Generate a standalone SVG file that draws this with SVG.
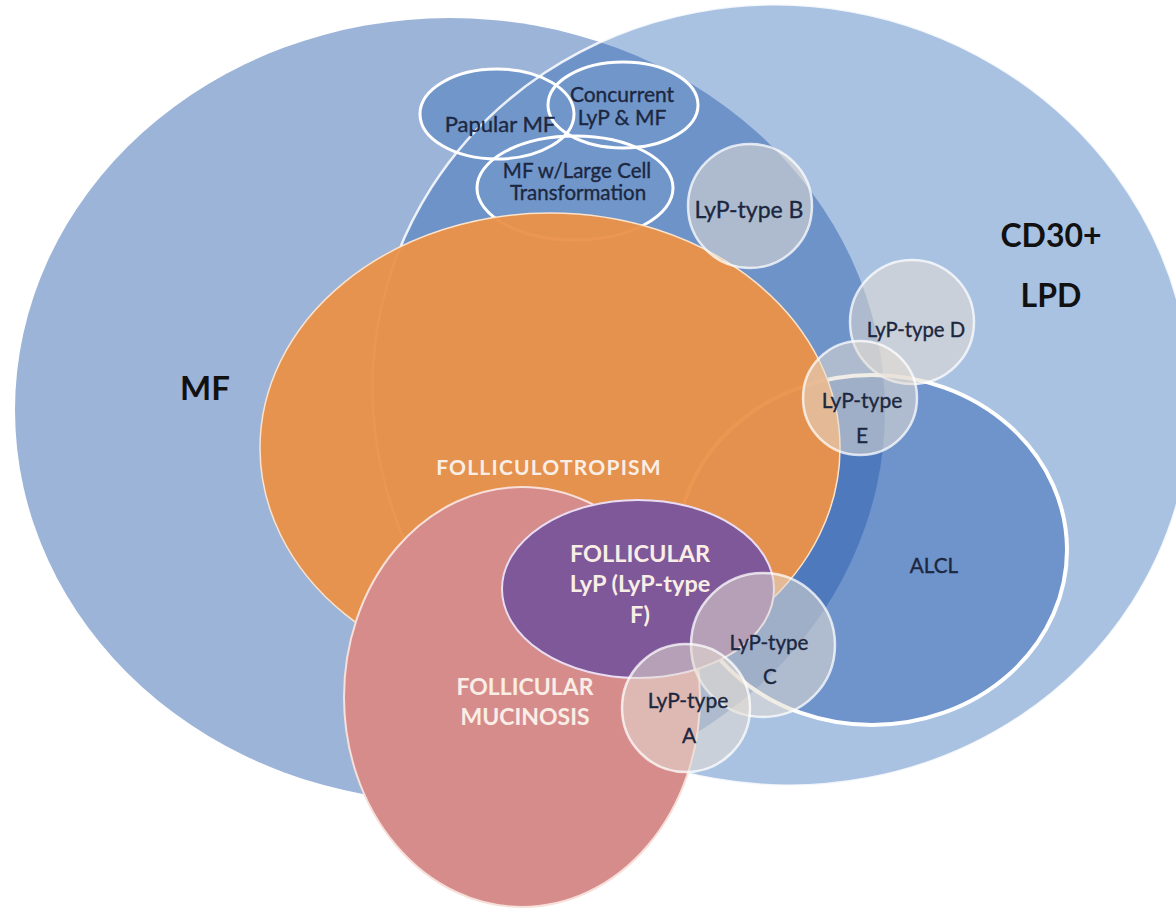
<svg xmlns="http://www.w3.org/2000/svg" width="1176" height="910" viewBox="0 0 1176 910">
<style>
.lbl{font-family:Lato,"Open Sans","Liberation Sans",sans-serif;fill:#1c2740;stroke:#1c2740;stroke-width:0.35;text-anchor:middle}
.big{font-family:Lato,"Open Sans","Liberation Sans",sans-serif;fill:#111111;font-weight:bold;text-anchor:middle}
.wht{font-family:Lato,"Open Sans","Liberation Sans",sans-serif;fill:#f9eee6;font-weight:bold;text-anchor:middle}
.subf{fill:#7096ca}
.subs{fill:none;stroke:#ffffff;stroke-width:3}
.lyp{fill:#e3dcd2;fill-opacity:0.55;stroke:#ffffff;stroke-opacity:0.75;stroke-width:2.5}
</style>
<defs>
<ellipse id="cdshape" cx="782" cy="395" rx="410" ry="390" transform="rotate(10 782 395)"/>
<clipPath id="cdclip"><use href="#cdshape"/></clipPath>
</defs>
<rect width="1176" height="910" fill="#ffffff"/>
<g id="mf"><ellipse cx="450" cy="410" rx="435" ry="392" fill="#9db4d9"/></g>
<g id="cd30"><use href="#cdshape" fill="#a9c2e2"/></g>
<g id="overlap"><ellipse cx="450" cy="410" rx="435" ry="392" fill="#6e93c9" clip-path="url(#cdclip)"/></g>
<g id="alcl"><ellipse cx="872" cy="550" rx="195" ry="175" fill="#285ab0" fill-opacity="0.45" stroke="#ffffff" stroke-width="4"/></g>
<g id="largecell"><ellipse cx="575" cy="188" rx="98" ry="52" class="subf"/></g>
<g id="papular"><ellipse cx="497" cy="114" rx="77" ry="45" class="subf"/></g>
<g id="concurrent"><ellipse cx="623" cy="105" rx="75" ry="43" class="subf"/></g>
<g id="sub-outlines">
<ellipse cx="575" cy="188" rx="98" ry="52" class="subs"/>
<ellipse cx="497" cy="114" rx="77" ry="45" class="subs"/>
<ellipse cx="623" cy="105" rx="75" ry="43" class="subs"/>
</g>
<g id="cd30-outline"><use href="#cdshape" fill="none" stroke="#ffffff" stroke-width="2.5" stroke-opacity="0.85"/></g>
<g id="folliculotropism"><ellipse cx="550" cy="448" rx="290" ry="235" fill="#ea924a" fill-opacity="0.96" stroke="#fbe3cc" stroke-width="1.5"/></g>
<g id="mucinosis"><ellipse cx="522" cy="697" rx="178" ry="210" fill="#d78c8c" stroke="#f7e0da" stroke-width="2"/></g>
<g id="follicular-lyp"><ellipse cx="638" cy="589" rx="136" ry="89" fill="#7e5899" stroke="#eadcf2" stroke-width="2"/></g>
<g id="lyp-b"><circle cx="750" cy="206" r="62" class="lyp"/></g>
<g id="lyp-d"><circle cx="912" cy="322" r="62" class="lyp"/></g>
<g id="lyp-e"><circle cx="860" cy="398" r="57" class="lyp"/></g>
<g id="lyp-c"><circle cx="763" cy="645" r="72" class="lyp"/></g>
<g id="lyp-a"><circle cx="686" cy="708" r="64" class="lyp"/></g>
<g id="labels">
<text class="big" x="205" y="400" font-size="33">MF</text>
<text class="big" x="1051" y="247" font-size="32">CD30+</text>
<text class="big" x="1051" y="307" font-size="32">LPD</text>
<text class="lbl" x="500" y="132" font-size="22">Papular MF</text>
<text class="lbl" x="622" y="102" font-size="21">Concurrent</text>
<text class="lbl" x="622" y="125" font-size="21">LyP &amp; MF</text>
<text class="lbl" x="577" y="178" font-size="20.5">MF w/Large Cell</text>
<text class="lbl" x="578" y="200" font-size="20.5">Transformation</text>
<text class="lbl" x="749" y="218" font-size="23">LyP-type B</text>
<text class="lbl" x="916" y="337" font-size="20.3">LyP-type D</text>
<text class="lbl" x="862" y="408" font-size="21">LyP-type</text>
<text class="lbl" x="862" y="443" font-size="21">E</text>
<text class="lbl" x="934" y="573" font-size="20.7">ALCL</text>
<text class="lbl" x="769" y="650" font-size="20.6">LyP-type</text>
<text class="lbl" x="770" y="684" font-size="20.6">C</text>
<text class="lbl" x="688" y="708" font-size="21">LyP-type</text>
<text class="lbl" x="689" y="743" font-size="21">A</text>
<text class="wht" x="549" y="475" font-size="21" letter-spacing="1.2">FOLLICULOTROPISM</text>
<text class="wht" x="640" y="562" font-size="23.5">FOLLICULAR</text>
<text class="wht" x="640" y="592" font-size="23.5">LyP (LyP-type</text>
<text class="wht" x="640" y="623" font-size="23.5">F)</text>
<text class="wht" x="525" y="695" font-size="23">FOLLICULAR</text>
<text class="wht" x="525" y="725" font-size="23">MUCINOSIS</text>
</g>
</svg>
